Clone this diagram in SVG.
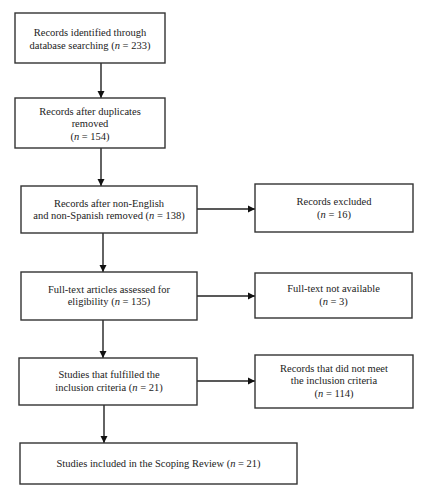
<svg xmlns="http://www.w3.org/2000/svg" width="428" height="500" viewBox="0 0 428 500">
<style>
.box{fill:#fff;stroke:#333;stroke-width:1.4}
.t{font-family:"Liberation Serif","Times New Roman",serif;font-size:10.5px;fill:#222;text-anchor:middle}
.c{stroke:#222;stroke-width:1.4;fill:none}
</style>
<defs>
<marker id="ah" markerWidth="8" markerHeight="8" refX="7" refY="4" orient="auto" markerUnits="userSpaceOnUse">
<path d="M0,0.5 L7,4 L0,7.5 Z" fill="#111"/>
</marker>
</defs>
<rect width="428" height="500" fill="#fff"/>
<g id="connectors">
<line class="c" x1="101" y1="63" x2="101" y2="98" marker-end="url(#ah)"/>
<line class="c" x1="101" y1="148" x2="101" y2="186" marker-end="url(#ah)"/>
<line class="c" x1="197" y1="209" x2="255" y2="209" marker-end="url(#ah)"/>
<line class="c" x1="103" y1="233" x2="103" y2="272" marker-end="url(#ah)"/>
<line class="c" x1="197" y1="296" x2="255" y2="296" marker-end="url(#ah)"/>
<line class="c" x1="103" y1="320" x2="103" y2="358" marker-end="url(#ah)"/>
<line class="c" x1="197" y1="381" x2="255" y2="381" marker-end="url(#ah)"/>
<line class="c" x1="104" y1="405" x2="104" y2="443" marker-end="url(#ah)"/>
</g>
<g id="n1">
<rect class="box" x="15" y="13" width="150" height="50"/>
<text class="t" x="90" y="36">Records identified through</text>
<text class="t" x="90" y="48.5">database searching (<tspan font-style="italic">n</tspan> = 233)</text>
</g>
<g id="n2">
<rect class="box" x="15" y="98" width="150" height="50"/>
<text class="t" x="90" y="115">Records after duplicates</text>
<text class="t" x="90" y="127">removed</text>
<text class="t" x="90" y="139.5">(<tspan font-style="italic">n</tspan> = 154)</text>
</g>
<g id="n3">
<rect class="box" x="21" y="186" width="176" height="47"/>
<text class="t" x="109" y="206.5">Records after non-English</text>
<text class="t" x="109" y="219">and non-Spanish removed (<tspan font-style="italic">n</tspan> = 138)</text>
</g>
<g id="n4">
<rect class="box" x="255" y="184" width="158" height="48"/>
<text class="t" x="334" y="205">Records excluded</text>
<text class="t" x="334" y="217.5">(<tspan font-style="italic">n</tspan> = 16)</text>
</g>
<g id="n5">
<rect class="box" x="21" y="272" width="176" height="48"/>
<text class="t" x="109" y="292.5">Full-text articles assessed for</text>
<text class="t" x="109" y="305">eligibility (<tspan font-style="italic">n</tspan> = 135)</text>
</g>
<g id="n6">
<rect class="box" x="255" y="273" width="157" height="45"/>
<text class="t" x="333.5" y="291.5">Full-text not available</text>
<text class="t" x="333.5" y="304.5">(<tspan font-style="italic">n</tspan> = 3)</text>
</g>
<g id="n7">
<rect class="box" x="19" y="358" width="178" height="47"/>
<text class="t" x="109" y="377.5">Studies that fulfilled the</text>
<text class="t" x="109" y="390.5">inclusion criteria (<tspan font-style="italic">n</tspan> = 21)</text>
</g>
<g id="n8">
<rect class="box" x="255" y="355" width="158" height="53"/>
<text class="t" x="334" y="371.5">Records that did not meet</text>
<text class="t" x="334" y="384">the inclusion criteria</text>
<text class="t" x="334" y="396.5">(<tspan font-style="italic">n</tspan> = 114)</text>
</g>
<g id="n9">
<rect class="box" x="20" y="443" width="277" height="41"/>
<text class="t" x="158.5" y="467">Studies included in the Scoping Review (<tspan font-style="italic">n</tspan> = 21)</text>
</g>
</svg>
